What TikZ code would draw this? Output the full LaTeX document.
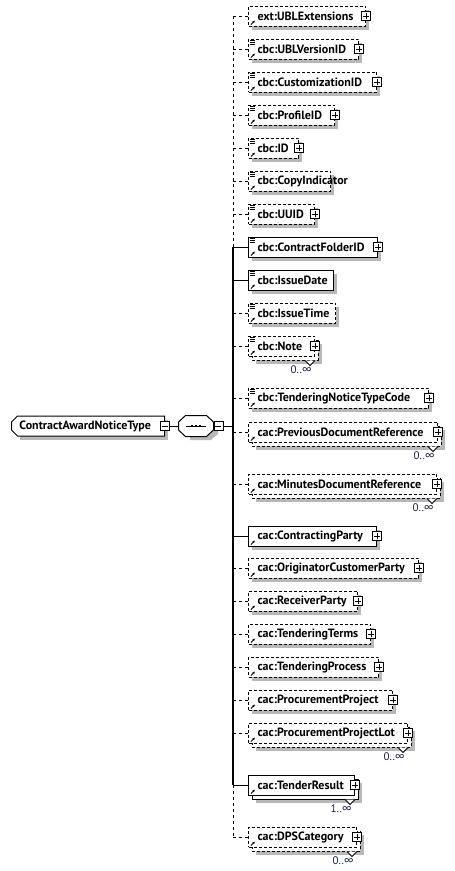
\documentclass[tikz,border=0pt]{standalone}
\usepackage{fontspec}
\setmainfont{PT Sans}
\usetikzlibrary{arrows.meta, positioning, calc, shapes.misc}
\definecolor{occtext}{RGB}{30,30,70}

\begin{document}
\begin{tikzpicture}[
		x=1pt, y=-1pt,
		line width=1pt,
		font=\fontsize{12}{14}\selectfont\bfseries,
		elem/.style={draw, fill=white, anchor=west, minimum height=20pt, inner xsep=9pt, inner ysep=0pt, text width=#1, align=left},
		opt/.style={dash pattern=on 3pt off 2pt},
		optline/.style={dash pattern=on 3pt off 3pt},
		expand/.style={draw, solid, fill=white, minimum size=9pt, inner sep=0pt, line width=0.8pt,
			path picture={\draw[line width=0.8pt] ([xshift=-3pt]path picture bounding box.center) -- ([xshift=3pt]path picture bounding box.center)
				([yshift=-3pt]path picture bounding box.center) -- ([yshift=3pt]path picture bounding box.center);}},
		collapse/.style={draw, solid, fill=white, minimum size=9pt, inner sep=0pt, line width=0.8pt,
			path picture={\draw[line width=0.8pt] ([xshift=-3pt]path picture bounding box.center) -- ([xshift=3pt]path picture bounding box.center);}},
		occ/.style={font=\fontsize{11}{13}\selectfont\mdseries, text=occtext, inner sep=0pt}
		]
		
		\useasboundingbox (0,0) rectangle (455,871);
		
		% Shadows (drawn first, behind everything)
		\foreach \yy/\ww in {16/117, 49/110, 82/128, 115/86, 148/50, 181/82, 214/66, 247/129, 280/85, 313/87,
			398/180, 536/128, 568/170, 601/109, 634/122, 667/130, 700/144}
			\fill[black!28] (252,\yy-6) rectangle (252+\ww,\yy+14);
		\foreach \yy/\ww in {346/66, 432/189, 484/188, 733/159, 785/106, 837/108}
			\fill[black!28] (256,\yy-2) rectangle (256+\ww,\yy+18);
		\fill[black!28] (20,420) rectangle (168,440);
		\fill[black!28] (190,420) -- (211,420) -- (218,426) -- (218,434) -- (211,440) -- (190,440) -- cycle;
		
		% Complex type and sequence
		\node[chamfered rectangle, chamfered rectangle corners={north west,south west}, chamfered rectangle sep=3pt,
			draw, fill=white, minimum width=152pt, minimum height=20pt, inner xsep=5pt, inner ysep=0pt,
			text width=137pt, align=left] (ctype) at (88,426) {ContractAwardNoticeType};
		\node[collapse] (ctype-x) at (ctype.east) {};
		
		\node[minimum width=34pt, minimum height=20pt, inner sep=0pt] (seq) at (196,426) {};
		\draw[fill=white] ([shift={(7,0)}]seq.north west) -- ([shift={(-7,0)}]seq.north east)
			-- ([shift={(0,-4)}]seq.east) -- ([shift={(0,4)}]seq.east) -- ([shift={(-7,0)}]seq.south east)
			-- ([shift={(7,0)}]seq.south west) -- ([shift={(0,4)}]seq.west) -- ([shift={(0,-4)}]seq.west) -- cycle;
		\draw[line width=0.8pt] ([xshift=-10pt]seq.center) -- ([xshift=10pt]seq.center);
		\foreach \d in {-4,0,4}
			\fill ([xshift=\d pt]seq.center) +(-1.3,-1.3) rectangle +(1.3,1.3);
		\node[collapse, right=0pt of seq] (seq-x) {};
		
		\draw (ctype-x) -- (seq);
		\coordinate (bus) at (233,426);
		\draw (seq-x) -- (bus |- seq-x);
		
		% Stacked copies behind repeating elements
		\foreach \yy/\ww in {346/66, 432/189, 484/188, 733/159, 837/108}
			\draw[fill=white, opt] (252,\yy-6) rectangle (252+\ww,\yy+14);
		\draw[fill=white] (252,779) rectangle (358,799);
		
		% Child elements
		\node[elem=99pt, opt] (ublext) at (248,16) {ext:UBLExtensions};
		\node[elem=92pt, opt] (ublver) at (248,49) {cbc:UBLVersionID};
		\node[elem=110pt, opt] (custid) at (248,82) {cbc:CustomizationID};
		\node[elem=68pt, opt] (profid) at (248,115) {cbc:ProfileID};
		\node[elem=32pt, opt] (id) at (248,148) {cbc:ID};
		\node[elem=64pt, opt] (copyind) at (248,181) {cbc:CopyIndicator};
		\node[elem=48pt, opt] (uuid) at (248,214) {cbc:UUID};
		\node[elem=111pt] (cfid) at (248,247) {cbc:ContractFolderID};
		\node[elem=67pt] (idate) at (248,280) {cbc:IssueDate};
		\node[elem=69pt, opt] (itime) at (248,313) {cbc:IssueTime};
		\node[elem=48pt, opt] (note) at (248,346) {cbc:Note};
		\node[elem=162pt, opt] (tntc) at (248,398) {cbc:TenderingNoticeTypeCode};
		\node[elem=171pt, opt] (pdr) at (248,432) {cac:PreviousDocumentReference};
		\node[elem=170pt, opt] (mdr) at (248,484) {cac:MinutesDocumentReference};
		\node[elem=110pt] (cparty) at (248,536) {cac:ContractingParty};
		\node[elem=152pt, opt] (ocparty) at (248,568) {cac:OriginatorCustomerParty};
		\node[elem=91pt, opt] (rparty) at (248,601) {cac:ReceiverParty};
		\node[elem=104pt, opt] (tterms) at (248,634) {cac:TenderingTerms};
		\node[elem=112pt, opt] (tproc) at (248,667) {cac:TenderingProcess};
		\node[elem=126pt, opt] (pproj) at (248,700) {cac:ProcurementProject};
		\node[elem=141pt, opt] (pplot) at (248,733) {cac:ProcurementProjectLot};
		\node[elem=88pt] (tres) at (248,785) {cac:TenderResult};
		\node[elem=90pt, opt] (dps) at (248,837) {cac:DPSCategory};
		
		% Sequence bus and branches
		\draw[optline] (bus |- ublext.west) -- (bus |- cfid.west);
		\draw[line width=1.5pt] (bus |- cfid.west) -- (bus |- tres.west);
		\draw[optline] (bus |- tres.west) -- (bus |- dps.west);
		\foreach \n in {ublext, ublver, custid, profid, id, copyind, uuid, itime, note, tntc, pdr, mdr,
			ocparty, rparty, tterms, tproc, pproj, pplot, dps}
			\draw[optline] (bus |- \n.west) -- (\n.west);
		\foreach \n in {cfid, idate, cparty, tres}
			\draw (bus |- \n.west) -- (\n.west);
		
		% Icons
		\foreach \n in {ublext, ublver, custid, profid, id, copyind, uuid, cfid, idate, itime, note, tntc, pdr, mdr,
			cparty, ocparty, rparty, tterms, tproc, pproj, pplot, tres, dps}
			\draw[-{Latex[length=2.5pt, width=2.5pt]}, line width=0.8pt] ([shift={(3,-2)}]\n.south west) -- ++(4,-4);
		\foreach \n in {ublver, custid, profid, id, copyind, uuid, cfid, idate, itime, note, tntc}
			\foreach \k in {2,4,6}
				\draw[line width=0.7pt] ([shift={(2,\k)}]\n.north west) -- ++(5,0);
		\foreach \n in {ublext, ublver, custid, profid, id, uuid, cfid, note, tntc, pdr, mdr,
			cparty, ocparty, rparty, tterms, tproc, pproj, pplot, tres, dps}
			\node[expand] (\n-x) at (\n.east) {};
		
		% Occurrences
		\foreach \n/\m in {note/0, pdr/0, mdr/0, pplot/0, tres/1, dps/0} {
			\draw[fill=white, line width=0.8pt] ([shift={(-10,4)}]\n.south east) -- ++(5,5) -- ++(5,-5);
			\node[occ] (\n-occ) at ([shift={(-14,13)}]\n.south east) {\m..∞};
		}
		
	\end{tikzpicture}
\end{document}
